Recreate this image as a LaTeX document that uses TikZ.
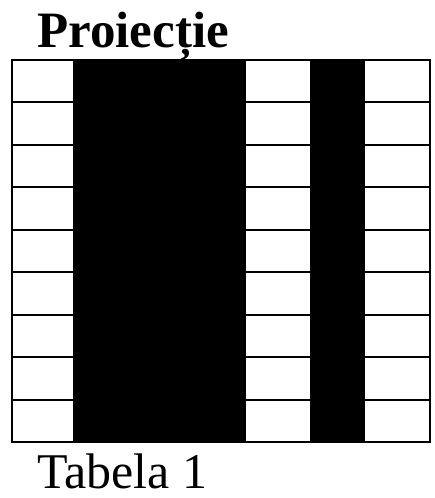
\documentclass[tikz,border=0pt]{standalone}
\usepackage{fontspec}
\setmainfont{Liberation Serif}
\usetikzlibrary{positioning}
\definecolor{ink}{HTML}{000000}
\tikzset{
  gridline/.style={draw=ink,line width=2pt},
  blackcol/.style={fill=ink},
  caption/.style={anchor=base west,inner sep=0pt,
                  font=\fontsize{50}{60}\selectfont},
  heading/.style={anchor=base west,inner sep=0pt,
                  font=\fontsize{51}{60}\selectfont\bfseries}
}
\begin{document}
\begin{tikzpicture}[x=1pt,y=-1pt]
  \path[use as bounding box] (0,0) rectangle (434,498);
  % black columns
  \fill[blackcol] (73,60) rectangle (246,442);
  \fill[blackcol] (310,60) rectangle (365,442);
  % rows in the white columns
  \foreach \xa/\xb in {12/73,246/310,365/430}{
    \foreach \r in {1,...,8}
      \draw[gridline] (\xa,60+42.44*\r) -- (\xb,60+42.44*\r);
  }
  \draw[gridline] (12,60) rectangle (430,442);
  \node[heading] (title) at (37,47) {Proiecție};
  \node[caption] (caption) at (37,488) {Tabela 1};
\end{tikzpicture}
\end{document}
